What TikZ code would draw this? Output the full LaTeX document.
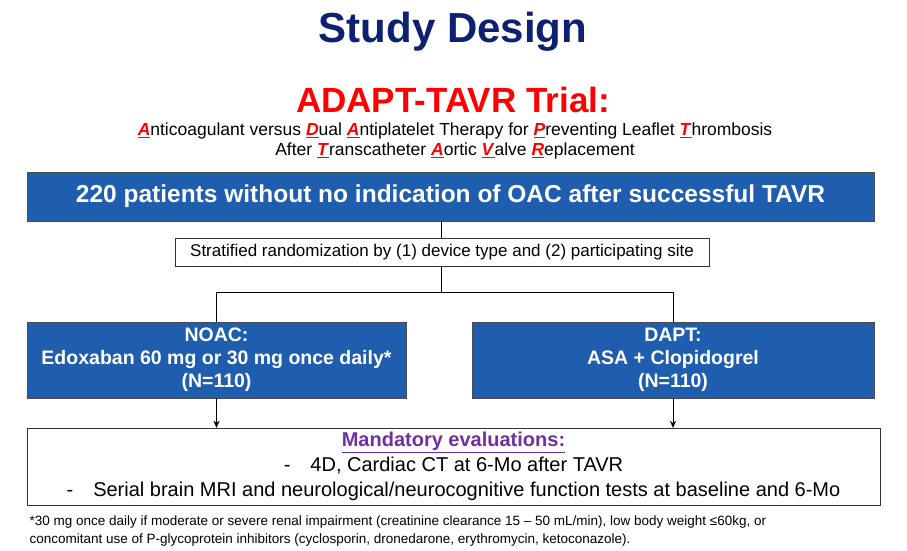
\documentclass[tikz,border=0pt]{standalone}
\usepackage{fontspec}
\setmainfont{Liberation Sans}
\usetikzlibrary{positioning,arrows.meta}
\definecolor{navy}{HTML}{0D2170}
\definecolor{boxblue}{HTML}{1F5DAE}
\definecolor{mandpurple}{HTML}{7030A0}
\newcommand{\redletter}[1]{\textcolor{red}{\underline{\textbf{\textit{#1}}}}}
\begin{document}
\begin{tikzpicture}[x=1pt,y=-1pt]
\tikzstyle{bluebox}=[rectangle,draw=black!70,fill=boxblue,text=white,font=\bfseries,align=center,inner sep=0pt]
\tikzstyle{whitebox}=[rectangle,draw=black!80,fill=white,align=center,inner sep=0pt]
\tikzstyle{link}=[thin,black]
\tikzstyle{arrow}=[thin,black,-{Stealth[length=7pt,width=6pt]}]

\useasboundingbox (0,0) rectangle (907,551);

\node [font=\fontsize{42}{46}\selectfont\bfseries,text=navy] at (453,32) (title) {Study Design};
\node [font=\fontsize{35}{40}\selectfont\bfseries,text=red] at (453,100) (trial) {ADAPT-TAVR Trial:};
\node [font=\fontsize{17.5}{20}\selectfont,align=center] at (455,141) (subtitle)
  {\redletter{A}nticoagulant versus \redletter{D}ual \redletter{A}ntiplatelet Therapy for \redletter{P}reventing Leaflet \redletter{T}hrombosis\\
   After \redletter{T}ranscatheter \redletter{A}ortic \redletter{V}alve \redletter{R}eplacement};

\node [bluebox,minimum width=847pt,minimum height=49pt,font=\fontsize{24.5}{28}\selectfont\bfseries] at (450.5,196.5) (patients)
  {220 patients without no indication of OAC after successful TAVR};
\node [whitebox,minimum width=534pt,minimum height=28pt,font=\fontsize{17}{20}\selectfont] at (442,252) (strat)
  {Stratified randomization by (1) device type and (2) participating site};

\node [bluebox,minimum width=379pt,minimum height=76pt,font=\fontsize{19.5}{23}\selectfont\bfseries] at (216.5,360) (noac)
  {NOAC:\\Edoxaban 60 mg or 30 mg once daily*\\(N=110)};
\node [bluebox,minimum width=402pt,minimum height=76pt,font=\fontsize{19.5}{23}\selectfont\bfseries] at (673,360) (dapt)
  {DAPT:\\ASA + Clopidogrel\\(N=110)};

\node [whitebox,minimum width=853pt,minimum height=77pt,font=\fontsize{20}{25}\selectfont] at (453.5,466.5) (mand)
  {\textcolor{mandpurple}{\textbf{\underline{Mandatory evaluations:}}}\\
   -\quad 4D, Cardiac CT at 6-Mo after TAVR\\
   -\quad Serial brain MRI and neurological/neurocognitive function tests at baseline and 6-Mo};

\node [font=\fontsize{13.5}{18}\selectfont,align=left,anchor=north west] at (26,512) (note)
  {*30 mg once daily if moderate or severe renal impairment (creatinine clearance 15 -- 50 mL/min), low body weight ≤60kg, or\\
   concomitant use of P-glycoprotein inhibitors (cyclosporin, dronedarone, erythromycin, ketoconazole).};

\coordinate (split) at (441,292);
\draw [link] (patients.south -| strat.north) ++(-1,0) coordinate (p1) -- (p1 |- strat.north);
\draw [link] (strat.south -| split) -- (split);
\draw [link] (split -| noac) -- (split -| dapt);
\draw [link] (split -| noac) -- (noac.north);
\draw [link] (split -| dapt) -- (dapt.north);
\draw [arrow] (noac.south) -- (noac.south |- mand.north);
\draw [arrow] (dapt.south) -- (dapt.south |- mand.north);
\end{tikzpicture}
\end{document}
